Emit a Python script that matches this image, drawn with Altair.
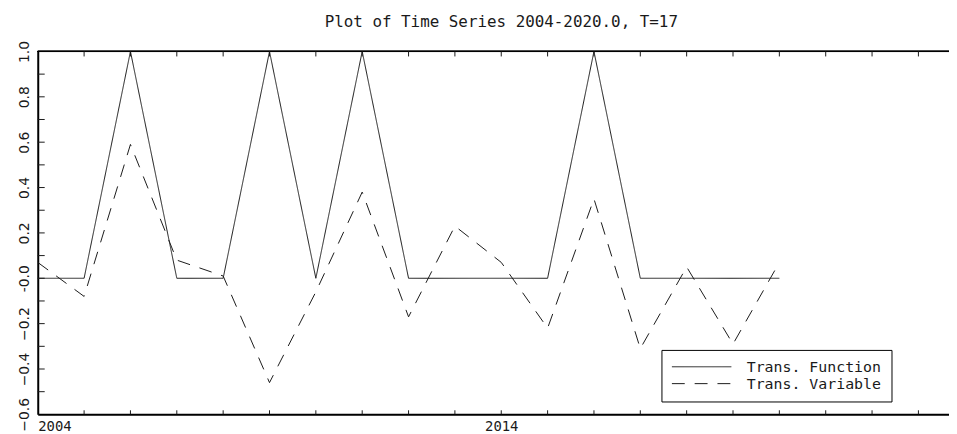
import altair as alt
import pandas as pd

# ---- data ----
years = [2004, 2005, 2006, 2007, 2008, 2009, 2010, 2011, 2012,
         2013, 2014, 2015, 2016, 2017, 2018, 2019, 2020]
trans_function = [0.0, 0.0, 1.0, 0.0, 0.0, 1.0, 0.0, 1.0, 0.0,
                  0.0, 0.0, 0.0, 1.0, 0.0, 0.0, 0.0, 0.0]
trans_variable = [0.07, -0.08, 0.59, 0.08, 0.01, -0.46, -0.06, 0.38, -0.17,
                  0.23, 0.07, -0.22, 0.35, -0.31, 0.05, -0.29, 0.07]
series_names = ["Trans. Function", "Trans. Variable"]

x_label_values = [2004, 2014]
x_tick_years = [2005, 2006, 2007, 2008, 2009, 2010, 2011, 2012, 2013, 2014,
                2015, 2016, 2017, 2018, 2019, 2020, 2021, 2022, 2023]
y_label_values = [-0.6, -0.4, -0.2, 0.0, 0.2, 0.4, 0.6, 0.8, 1.0]
y_tick_values = [-0.5, -0.4, -0.3, -0.2, -0.1, 0.0, 0.1, 0.2, 0.3, 0.4,
                 0.5, 0.6, 0.7, 0.8, 0.9]
title_text = "Plot of Time Series 2004-2020.0, T=17"

# ---- layout ----
W, H = 919, 366
X_DOMAIN = [2004, 2023.66]
Y_DOMAIN = [-0.6, 1.0]
FONT = "DejaVu Sans"
WIDE = "DejaVu Sans Mono"
INK = "#1a1a1a"

df = pd.DataFrame({
    "year": years * 2,
    "value": trans_function + trans_variable,
    "series": [series_names[0]] * len(years) + [series_names[1]] * len(years),
})
ticks_x = pd.DataFrame({"year": x_tick_years})
ticks_y = pd.DataFrame({"v": y_tick_values})

xscale = alt.Scale(domain=X_DOMAIN, nice=False, zero=False)
yscale = alt.Scale(domain=Y_DOMAIN, nice=False, zero=False)

lines = alt.Chart(df).mark_line(strokeWidth=1, color=INK, clip=True).encode(
    x=alt.X("year:Q", scale=xscale,
            axis=alt.Axis(title=None, values=x_label_values, format="d",
                          ticks=False, grid=False, labelFlush=True,
                          domainWidth=2, domainColor="black",
                          labelFont=WIDE, labelFontSize=14, labelColor=INK,
                          labelPadding=5, labelBaseline="top")),
    y=alt.Y("value:Q", scale=yscale,
            axis=alt.Axis(title=None, values=y_label_values, ticks=False,
                          grid=False, domainWidth=2, domainColor="black",
                          labelAngle=270, labelAlign="center",
                          labelBaseline="alphabetic", labelPadding=9,
                          labelFont=FONT, labelFontSize=14, labelColor=INK,
                          labelOverlap=False, labelBound=False,
                          labelExpr="abs(datum.value) < 1e-9 ? '-0.0' : format(datum.value, '.1f')")),
    strokeDash=alt.StrokeDash(
        "series:N",
        scale=alt.Scale(domain=series_names, range=[[1, 0], [13, 10]]),
        legend=alt.Legend(
            title=None, orient="none", legendX=629, legendY=301,
            strokeColor="black", fillColor="white", padding=10,
            symbolType="stroke", symbolSize=3600, symbolStrokeWidth=1,
            symbolStrokeColor=INK, labelFont=WIDE, labelFontSize=15,
            labelColor=INK, labelOffset=15, clipHeight=14, rowPadding=2,
        ),
    ),
    order="year:Q",
)

top_frame = alt.Chart(ticks_x).mark_rule(strokeWidth=1, color="black").encode(
    y=alt.datum(1.0, scale=yscale)
)
top_ticks = alt.Chart(ticks_x).mark_rule(strokeWidth=1, color=INK).encode(
    x=alt.X("year:Q", scale=xscale), y=alt.datum(1.0), y2=alt.datum(0.978)
)
bottom_ticks = alt.Chart(ticks_x).mark_rule(strokeWidth=1, color=INK).encode(
    x=alt.X("year:Q", scale=xscale), y=alt.datum(-0.6), y2=alt.datum(-0.582)
)
left_ticks = alt.Chart(ticks_y).mark_rule(strokeWidth=1, color=INK).encode(
    y=alt.Y("v:Q", scale=yscale), x=alt.datum(2004), x2=alt.datum(2004.15)
)

chart = alt.layer(lines, top_frame, top_ticks, bottom_ticks, left_ticks).properties(
    width=W, height=H,
    autosize=alt.AutoSizeParams(type="none"),
    padding={"left": 30, "top": 42, "right": 0, "bottom": 20},
    title=alt.TitleParams(title_text, font=WIDE, fontSize=16, fontWeight="normal",
                          color=INK, anchor="middle", frame="group",
                          baseline="bottom", offset=0, dx=8, dy=5),
).configure_view(stroke=None).configure(background="white")

chart.save("out.html", embed_options={"renderer": "svg", "actions": False})
